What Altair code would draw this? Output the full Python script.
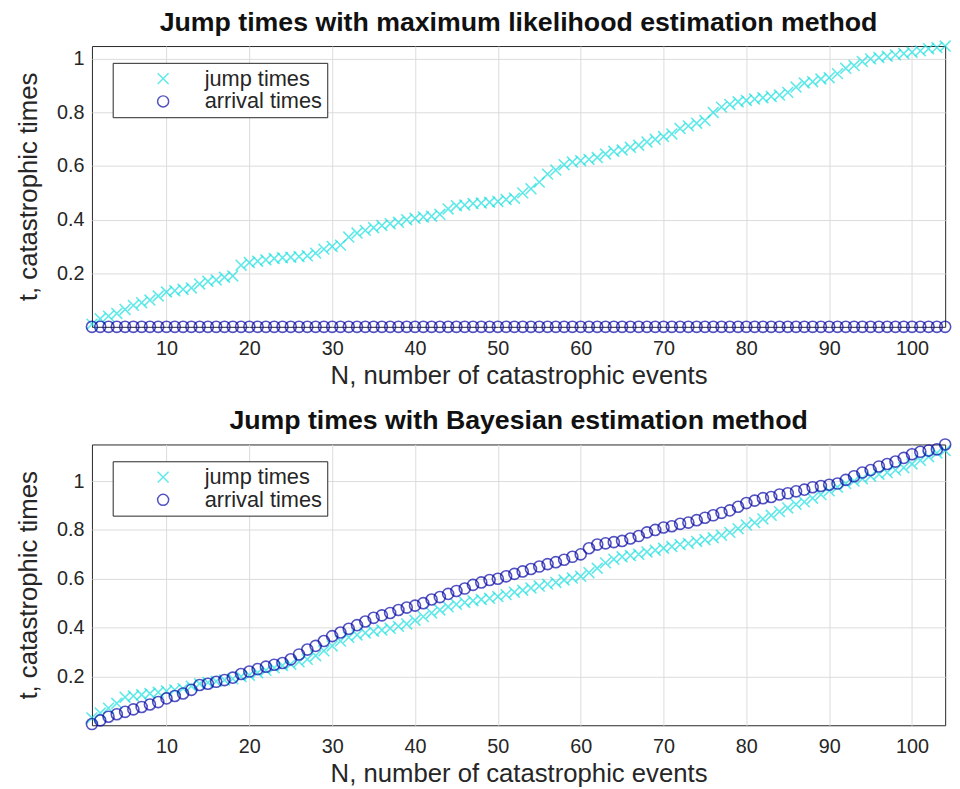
import altair as alt
import pandas as pd

N = list(range(1, 105))

ml_jump = [0.01, 0.03, 0.04, 0.05, 0.065, 0.08, 0.09, 0.10, 0.115, 0.13,
           0.135, 0.14, 0.145, 0.16, 0.17, 0.175, 0.185, 0.19, 0.23, 0.24,
           0.245, 0.25, 0.255, 0.258, 0.26, 0.262, 0.265, 0.275, 0.29, 0.30,
           0.305, 0.335, 0.35, 0.36, 0.37, 0.378, 0.385, 0.39, 0.40, 0.405,
           0.41, 0.413, 0.42, 0.44, 0.452, 0.455, 0.46, 0.462, 0.465, 0.468,
           0.475, 0.48, 0.50, 0.515, 0.54, 0.57, 0.585, 0.605, 0.615, 0.62,
           0.625, 0.632, 0.645, 0.655, 0.66, 0.67, 0.678, 0.69, 0.70, 0.71,
           0.72, 0.74, 0.75, 0.76, 0.77, 0.80, 0.82, 0.83, 0.84, 0.845,
           0.85, 0.855, 0.86, 0.865, 0.875, 0.895, 0.91, 0.915, 0.925, 0.93,
           0.945, 0.965, 0.975, 0.99, 1.0, 1.005, 1.01, 1.015, 1.02, 1.025,
           1.03, 1.038, 1.042, 1.048]
ml_arrival = [0.0] * 104

bay_jump = [0.03, 0.05, 0.07, 0.09, 0.115, 0.12, 0.125, 0.13, 0.135, 0.14,
            0.145, 0.15, 0.16, 0.17, 0.175, 0.18, 0.185, 0.19, 0.20, 0.205,
            0.215, 0.225, 0.235, 0.245, 0.25, 0.26, 0.27, 0.285, 0.305, 0.325,
            0.345, 0.36, 0.37, 0.378, 0.385, 0.39, 0.397, 0.405, 0.415, 0.43,
            0.445, 0.46, 0.472, 0.485, 0.495, 0.503, 0.51, 0.515, 0.52, 0.527,
            0.535, 0.545, 0.553, 0.562, 0.57, 0.578, 0.585, 0.595, 0.603, 0.61,
            0.625, 0.643, 0.665, 0.68, 0.69, 0.695, 0.70, 0.71, 0.717, 0.725,
            0.732, 0.74, 0.745, 0.753, 0.76, 0.768, 0.778, 0.79, 0.805, 0.82,
            0.83, 0.845, 0.86, 0.875, 0.89, 0.905, 0.915, 0.93, 0.945, 0.96,
            0.975, 0.99, 1.0, 1.01, 1.02, 1.028, 1.035, 1.045, 1.055, 1.07,
            1.085, 1.10, 1.115, 1.125]
bay_arrival = [0.005, 0.02, 0.035, 0.045, 0.055, 0.065, 0.075, 0.085, 0.095, 0.11,
               0.12, 0.13, 0.145, 0.165, 0.17, 0.178, 0.185, 0.195, 0.21, 0.22,
               0.23, 0.24, 0.248, 0.255, 0.27, 0.29, 0.31, 0.325, 0.345, 0.365,
               0.38, 0.395, 0.41, 0.425, 0.44, 0.45, 0.46, 0.472, 0.482, 0.49,
               0.50, 0.515, 0.525, 0.538, 0.55, 0.56, 0.575, 0.585, 0.595, 0.60,
               0.61, 0.62, 0.63, 0.64, 0.65, 0.66, 0.668, 0.678, 0.69, 0.70,
               0.725, 0.74, 0.745, 0.75, 0.755, 0.765, 0.775, 0.79, 0.80, 0.81,
               0.815, 0.825, 0.83, 0.84, 0.85, 0.86, 0.87, 0.88, 0.895, 0.91,
               0.92, 0.93, 0.935, 0.945, 0.95, 0.958, 0.965, 0.975, 0.98, 0.985,
               0.99, 1.005, 1.02, 1.035, 1.045, 1.06, 1.07, 1.08, 1.095, 1.11,
               1.12, 1.125, 1.13, 1.15]

series_names = ["jump times", "arrival times"]
x_ticks = [10, 20, 30, 40, 50, 60, 70, 80, 90, 100]
y_ticks = [0.2, 0.4, 0.6, 0.8, 1.0]

FONT = "Liberation Sans"
TXT = "#262626"
XPATH = "M-1,-1L1,1M-1,1L1,-1"


def frame(jump, arrival):
    rows = []
    for n, v in zip(N, jump):
        rows.append({"N": n, "t": v, "series": series_names[0], "order": 0})
    for n, v in zip(N, arrival):
        rows.append({"N": n, "t": v, "series": series_names[1], "order": 1})
    return pd.DataFrame(rows)


def panel(df, title, ymax):
    return alt.Chart(df, title=alt.TitleParams(title, fontSize=27, fontWeight="bold",
                                                 font=FONT, color="#111111", offset=1)).mark_point(
        filled=False, strokeWidth=1.6, clip=False
    ).encode(
        x=alt.X("N:Q", scale=alt.Scale(domain=[1, 104], nice=False, zero=False),
                axis=alt.Axis(values=x_ticks, title="N, number of catastrophic events",
                              labelPadding=12)),
        y=alt.Y("t:Q", scale=alt.Scale(domain=[0, ymax], nice=False),
                axis=alt.Axis(values=y_ticks, title="t, catastrophic times",
                              labelExpr="datum.value == 1 ? '1' : format(datum.value, '.1f')")),
        color=alt.Color("series:N", sort=series_names,
                        scale=alt.Scale(domain=series_names, range=["#1ee0e0", "#0a0aa8"]),
                        legend=alt.Legend(title=None, orient="none", legendX=21, legendY=17,
                                          strokeColor=TXT, fillColor="white", padding=5,
                                          symbolOffset=35, labelOffset=31, labelFontSize=22,
                                          labelFont=FONT, labelColor=TXT, symbolSize=120,
                                          symbolStrokeWidth=1.5, rowPadding=1, labelLimit=300,
                                          cornerRadius=0)),
        shape=alt.Shape("series:N", sort=series_names,
                        scale=alt.Scale(domain=series_names, range=[XPATH, "circle"]),
                        legend=alt.Legend(title=None, orient="none", legendX=21, legendY=17)),
        size=alt.Size("series:N", sort=series_names,
                      scale=alt.Scale(domain=series_names, range=[120, 125]), legend=None),
        order=alt.Order("order:Q"),
    ).properties(width=863, height=284)


df1 = frame(ml_jump, ml_arrival)
df2 = frame(bay_jump, bay_arrival)

top = panel(df1, "Jump times with maximum likelihood estimation method", 1.048)
bottom = panel(df2, "Jump times with Bayesian estimation method", 1.15)

chart = alt.vconcat(top, bottom, spacing=17).resolve_scale(
    color="independent", shape="independent", size="independent"
).configure(
    padding={"left": 15, "top": 3, "right": 5, "bottom": 5},
    background="white",
).configure_view(
    stroke=TXT, strokeWidth=1
).configure_axis(
    grid=True, gridColor="#dcdcdc", gridWidth=1, ticks=False, domain=False,
    labelFont=FONT, labelFontSize=20, labelColor=TXT, labelPadding=8,
    titleFont=FONT, titleFontSize=26, titleFontWeight="normal", titleColor=TXT,
    titlePadding=4
).configure_axisY(
    titlePadding=15
)

chart.save("out.html", embed_options={"renderer": "svg", "actions": False})
